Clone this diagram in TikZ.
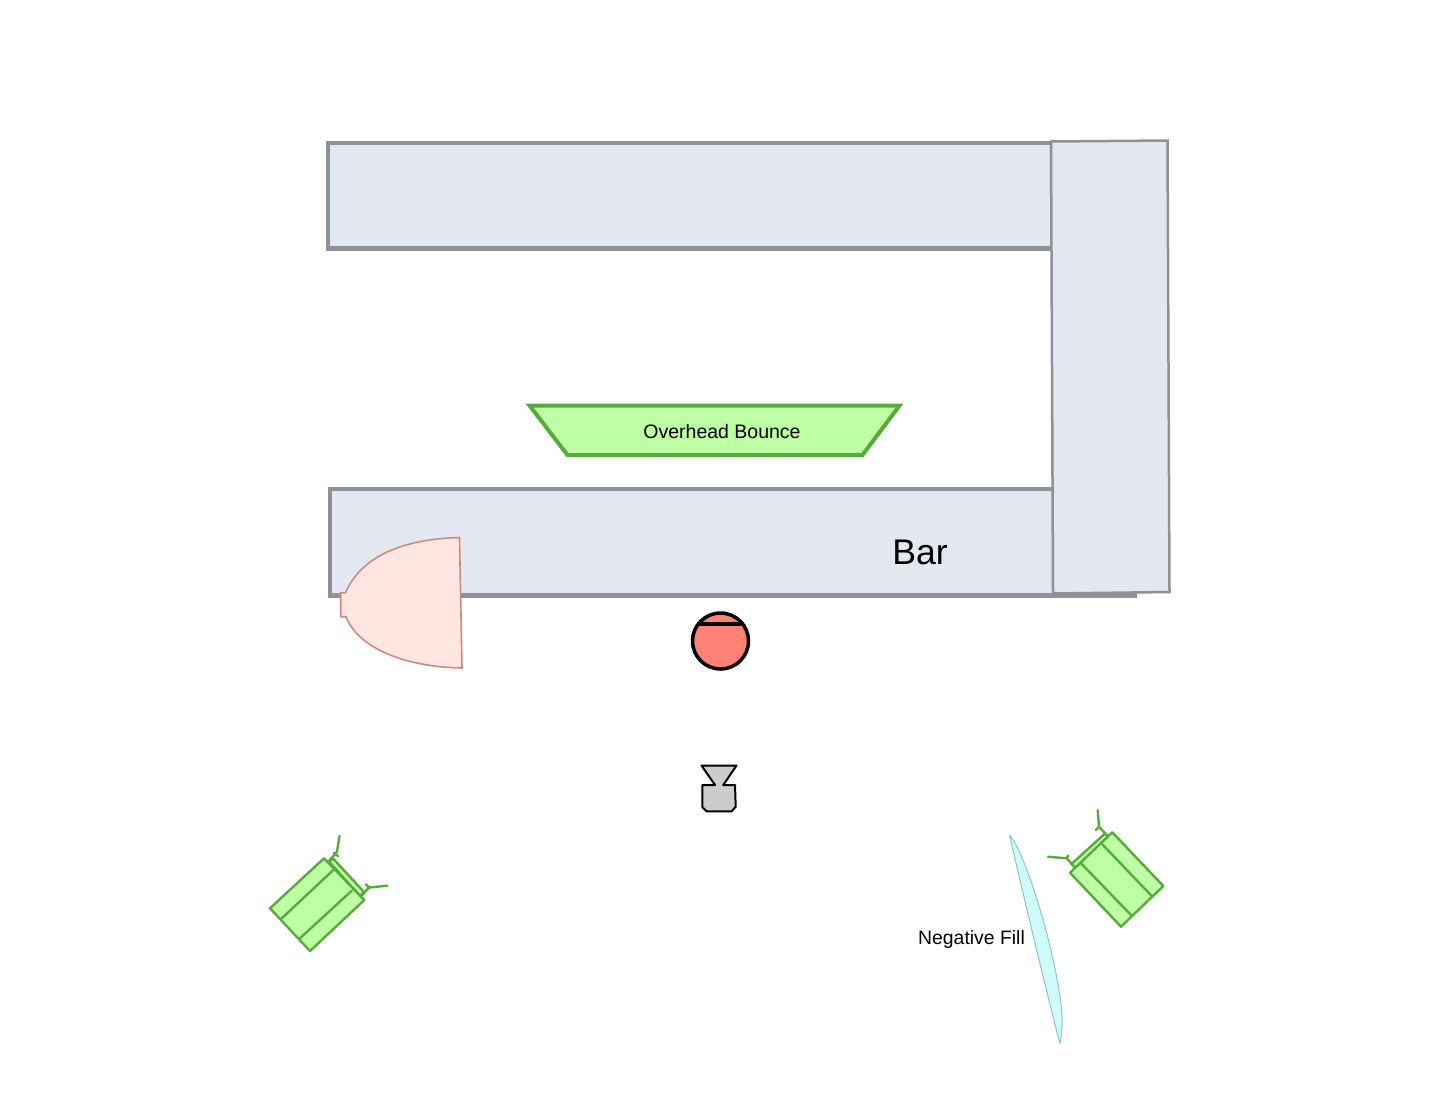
\documentclass[tikz,border=0pt]{standalone}
\usepackage{fontspec}
\setmainfont{Liberation Sans}
\usepackage{tikz}
\definecolor{wallfill}{HTML}{E3E7EF}
\definecolor{wallline}{HTML}{8E9297}
\definecolor{bouncefill}{HTML}{BEFFA6}
\definecolor{bounceline}{HTML}{57AB3C}
\definecolor{lampfill}{HTML}{FFE6E0}
\definecolor{lampline}{HTML}{CC8A84}
\definecolor{talentfill}{HTML}{FF8277}
\definecolor{camfill}{HTML}{CCCCCC}
\definecolor{negfill}{HTML}{CFFBFB}
\definecolor{negline}{HTML}{8FC4C4}
\tikzset{
  wall/.style={draw=wallline,fill=wallfill,line width=4.6pt,line join=miter},
  wallthin/.style={draw=wallline,fill=wallfill,line width=2.5pt},
  kino/.style={draw=bounceline,fill=bouncefill,line width=2.4pt,line join=round},
  kinoline/.style={draw=bounceline,line width=2.4pt,line cap=round,line join=round},
  label/.style={inner sep=0pt,anchor=base,text=black}
}
\begin{document}
\begin{tikzpicture}[x=1pt,y=-1pt]
            \useasboundingbox (0,0) rectangle (1442,1109);
            \draw [wall] (328,143) rectangle (1052,248.5);
            \draw [wall] (330,489) rectangle (1135,595.5);
            \draw [wallthin] (1051,141.5) -- (1167.5,140.5) -- (1169.5,592) -- (1053,593.5) -- cycle;
            \node [label,font=\fontsize{35.6}{40}\selectfont] (barlabel) at (920,564) {Bar};
            \draw [draw=bounceline,fill=bouncefill,line width=4pt] (529.5,405.5) -- (899.5,405.5) -- (862.5,455) -- (567.5,455) -- cycle;
            \node [label,font=\fontsize{19.5}{24}\selectfont] (bouncelabel) at (722,438) {Overhead Bounce};
            \draw [draw=lampline,fill=lampfill,line width=1.6pt,line join=round] (459.5,537.5) .. controls (405,539) and (362,555) .. (345.5,592.7) -- (340.7,592.7) -- (340.7,616.7) -- (346,616.7) .. controls (358,648) and (405,667) .. (462,668) -- cycle;
            \draw [fill=talentfill,line width=3.5pt] (720.5,641) circle [radius=28];
            \draw [line width=3.5pt] (697,624) -- (744,624);
            \draw [fill=camfill,line width=2pt,line join=round] (701.5,765.5) -- (736.5,765.5) -- (723.3,785) -- (735,785) -- (735.7,806.7) -- (731.7,811.3) -- (706.7,811.3) -- (702.3,807.3) -- (702.3,785) -- (715,785) -- cycle;
            \draw [kinoline] (329,861) -- (337,851.7) -- (339.5,836);
            \draw [kinoline] (334,853) -- (338,856);
            \draw [kinoline] (361.7,895.7) -- (369,887.5) -- (387.3,885.7);
            \draw [kinoline] (366,884.3) -- (369,887.5);
            \draw [kino] (329,861.5) -- (333,858.5) -- (364,892) -- (360,896) -- cycle;
            \draw [kino] (324,858.3) -- (364.3,900) -- (310,951) -- (270,908.3) -- cycle;
            \draw [kinoline] (333.3,870) -- (280.7,919.3);
            \draw [kinoline] (351.7,890.7) -- (300,938.3);
            \draw [kinoline] (1106,834.3) -- (1099,826.7) -- (1097.7,810);
            \draw [kinoline] (1096,830) -- (1099,826.7);
            \draw [kinoline] (1072.7,865) -- (1066.7,858.3) -- (1048,856.7);
            \draw [kinoline] (1068,855.5) -- (1066.7,858.3);
            \draw [kino] (1071.5,864) -- (1105,833.5) -- (1109,837) -- (1075.5,868) -- cycle;
            \draw [kino] (1112.3,832.3) -- (1163.3,886) -- (1121,926.7) -- (1070,872.7) -- cycle;
            \draw [kinoline] (1081,863.3) -- (1131,915);
            \draw [kinoline] (1102.3,844.3) -- (1151.7,896);
            \draw [draw=negline,fill=negfill,line width=1pt,line join=round] (1009.5,835) .. controls (1027,855) and (1058,960) .. (1062,1015) .. controls (1062.5,1028) and (1061,1038) .. (1060,1043.5) .. controls (1052,1015) and (1022,890) .. (1009.5,835) -- cycle;
            \node [label,font=\fontsize{19.4}{24}\selectfont] (fillabel) at (971.5,944) {Negative Fill};
        \end{tikzpicture}
\end{document}
